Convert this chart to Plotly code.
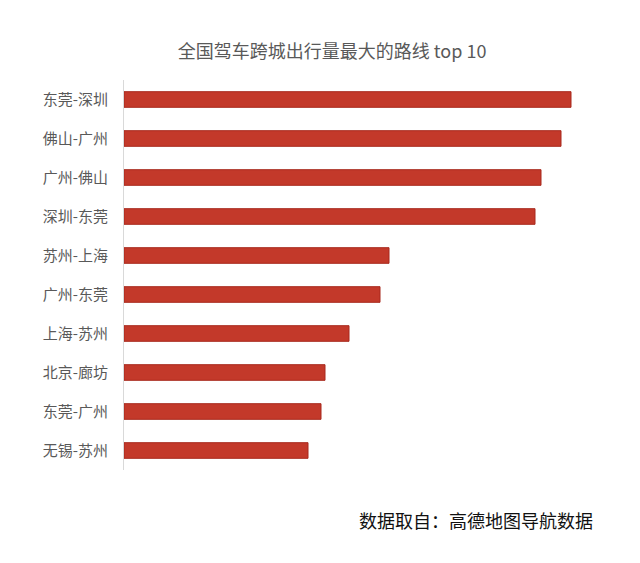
import plotly.graph_objects as go

routes = ["东莞-深圳", "佛山-广州", "广州-佛山", "深圳-东莞", "苏州-上海",
          "广州-东莞", "上海-苏州", "北京-廊坊", "东莞-广州", "无锡-苏州"]
values = [447, 437, 417, 411, 265, 256, 225, 201, 197, 184]

title_text = "全国驾车跨城出行量最大的路线 top 10"
source_text = "数据取自：高德地图导航数据"

FONT = "Noto Sans CJK SC, Microsoft YaHei, sans-serif"

fig = go.Figure(go.Bar(
    x=values, y=routes, orientation="h",
    marker=dict(color="#c3392a", line=dict(color="#a8281c", width=1)),
    hoverinfo="x+y",
))

fig.update_layout(
    width=640, height=563,
    margin=dict(l=124, r=40, t=80, b=93),
    paper_bgcolor="white", plot_bgcolor="white",
    bargap=0.6,
    showlegend=False,
    font=dict(family=FONT, color="#595959", size=14),
    title=dict(text=title_text, x=0.519, xanchor="center", y=0.909, yanchor="middle",
               font=dict(family=FONT, size=18, color="#595959")),
    xaxis=dict(range=[0, 476], showgrid=False, zeroline=False, showticklabels=False,
               showline=False, fixedrange=True),
    yaxis=dict(categoryorder="array", categoryarray=routes, autorange="reversed",
               showgrid=False, zeroline=False, showline=True, linecolor="#d9d9d9",
               linewidth=1, ticks="", ticklabelstandoff=12,
               tickfont=dict(family=FONT, size=15, color="#595959")),
    annotations=[dict(text=source_text, xref="paper", yref="paper",
                      x=(595 - 124) / (640 - 124 - 40), y=-(520 - 470) / (470 - 80),
                      xanchor="right", yanchor="middle", showarrow=False,
                      font=dict(family=FONT, size=18, color="#111111"))],
)

fig.write_html("out.html")
